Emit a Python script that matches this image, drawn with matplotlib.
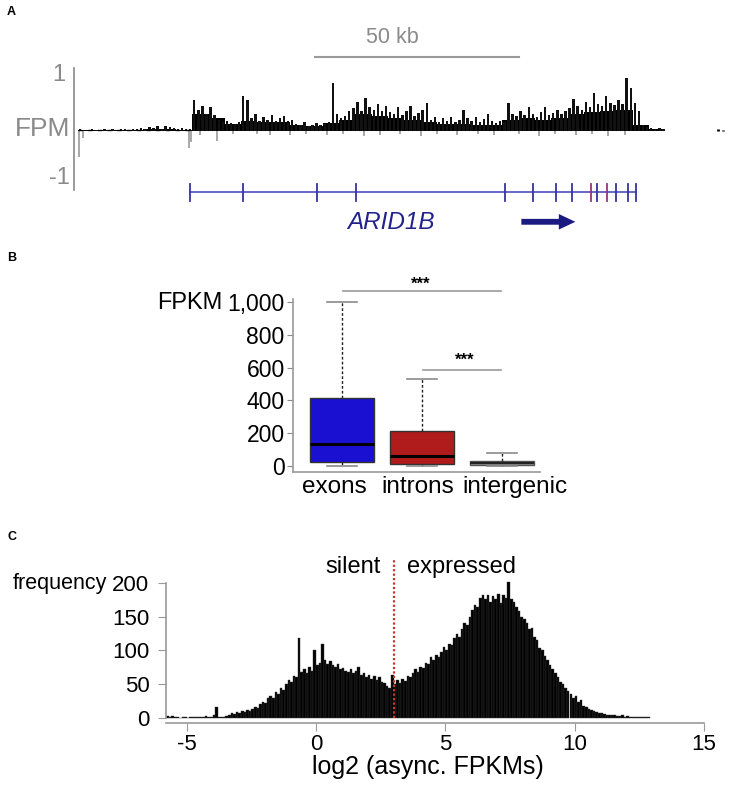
import numpy as np
import matplotlib
matplotlib.use('Agg')
import matplotlib.pyplot as plt
import matplotlib.transforms as mtransforms
from matplotlib.patches import FancyArrowPatch

plt.rcParams['font.family'] = ['Liberation Sans', 'DejaVu Sans']
plt.rcParams['axes.unicode_minus'] = False

# ---- panel A data (kb from left edge of the track) ----
# peak value in each 1 kb bin
fpm_plus = [0.03, 0.02, 0, 0.03, 0.02, 0, 0.03, 0.02, 0.04, 0, 0.03, 0.04, 0.02, 0.04,
            0.03, 0.05, 0.04, 0.06, 0.05, 0.08, 0.04, 0.09, 0.06, 0.05, 0.04, 0.05, 0.04, 0.03,
            0.55, 0.38, 0.45, 0.3, 0.42, 0.28,
            0.2, 0.15, 0.18, 0.14, 0.12, 0.16,
            0.62, 0.55,
            0.22, 0.3, 0.18, 0.25, 0.2, 0.28, 0.17, 0.22, 0.26, 0.18, 0.2,
            0.12, 0.1, 0.15, 0.09, 0.11, 0.14, 0.1, 0.12, 0.16,
            0.86,
            0.3, 0.22, 0.26, 0.35,
            0.4, 0.52, 0.35, 0.58, 0.42, 0.38, 0.48, 0.36, 0.44, 0.33,
            0.3, 0.42, 0.28, 0.35, 0.45, 0.26, 0.32, 0.38, 0.5,
            0.2, 0.24, 0.16, 0.22, 0.18, 0.25, 0.15, 0.2, 0.38, 0.22, 0.18, 0.24, 0.16, 0.21,
            0.3, 0.18, 0.14, 0.17, 0.15,
            0.5,
            0.3, 0.26, 0.35, 0.28, 0.42, 0.3, 0.25, 0.33, 0.43, 0.28, 0.32, 0.38, 0.3, 0.36,
            0.4, 0.57, 0.45, 0.38, 0.52, 0.42, 0.68, 0.48, 0.44, 0.62, 0.5, 0.46, 0.55, 0.48,
            0.94, 0.76, 0.5, 0.35,
            0.1, 0.06, 0.05, 0.04, 0.05, 0.03]
# dense coverage level in 4 kb bins
fpm_base = [0.01, 0.01, 0.02, 0.02, 0.03, 0.03, 0.02,
            0.3, 0.22, 0.12, 0.17, 0.16, 0.15, 0.1, 0.09, 0.14, 0.2, 0.3, 0.27, 0.22,
            0.2, 0.15, 0.13, 0.13, 0.11, 0.1, 0.2, 0.22, 0.2, 0.22, 0.3, 0.33, 0.35, 0.37,
            0.1, 0.03]
extra_kb = [157, 158]
extra_val = [0.03, 0.02]
minus_kb = [0.3, 1.2, 27.3, 27.7, 30, 34, 38, 44, 47, 52, 56, 61, 65, 70, 74, 79, 84,
            88, 93, 98, 102, 108, 113, 117, 122, 126, 130, 134]
minus_val = [-0.46, -0.12, -0.3, -0.2, -0.08, -0.18, -0.06, -0.05, -0.07, -0.07, -0.05,
             -0.08, -0.06, -0.1, -0.07, -0.05, -0.09, -0.06, -0.08, -0.05, -0.07, -0.06,
             -0.1, -0.05, -0.08, -0.06, -0.09, -0.07]
exon_kb = [27.5, 40.4, 58.6, 68.1, 104.7, 111.5, 117.2, 121.1, 125.7, 127.2, 129.7,
           131.9, 134.8, 136.8]
purple_exons = [125.7, 129.7]
gene_start, gene_end = 27.5, 136.8
scalebar_kb = (58.0, 108.0)

# ---- panel B data ----
regions = ['exons', 'introns', 'intergenic']
q1 = [26, 10, 4]
medians = [136, 63, 16]
q3 = [417, 214, 33]
whis_lo = [0, 0, 0]
whis_hi = [1000, 530, 79]
box_colors = ['#1a10d2', '#b01b1b', '#8c8c8c']

# ---- panel C data (0.1 log2 bins starting at -5.8) ----
hist_start = -5.8
hist_width = 0.1
hist_counts = [3, 2, 3, 1, 2, 0, 1, 1, 0, 1, 1, 2, 1, 2, 1, 3, 2, 1, 4, 16,
               2, 1, 2, 3, 5, 7, 6, 9, 8, 10, 9, 12, 11, 14, 17, 15, 21, 24, 22, 29,
               33, 30, 38, 36, 44, 42, 50, 56, 54, 62, 60, 118, 68, 72, 66, 75, 70, 100, 78, 82,
               110, 86, 80, 84, 78, 76, 80, 72, 74, 70, 68, 72, 66, 70, 76, 64, 66, 60, 63, 58,
               62, 56, 60, 54, 52, 48, 44, 64, 50, 56, 52, 58, 55, 62, 60, 66, 72, 68, 76, 74,
               82, 80, 90, 86, 94, 90, 98, 105, 100, 110, 108, 118, 124, 120, 132, 140, 138, 150, 160, 168,
               164, 178, 182, 176, 182, 172, 180, 176, 184, 170, 182, 178, 201, 176, 172, 164, 158, 150, 146, 140,
               132, 134, 120, 116, 104, 100, 92, 86, 78, 72, 66, 60, 54, 50, 44, 40, 36, 30, 32, 24,
               26, 18, 16, 13, 12, 10, 9, 8, 7, 6, 5, 5, 4, 4, 3, 3, 4, 2, 3, 2,
               2, 1, 2, 1, 2, 1, 1]
threshold = 3.0

W, H = 736, 786


def fig_rect(x0, y0, x1, y1):
    return [x0 / W, 1 - y1 / H, (x1 - x0) / W, (y1 - y0) / H]


fig = plt.figure(figsize=(W / 100, H / 100), dpi=100)

# ================= panel A =================
axA = fig.add_axes(fig_rect(74, 30, 736, 240))
axA.set_xlim(-0.98, 161.3)
axA.set_ylim(-1.95, 1.80)
for s in ['top', 'right', 'bottom']:
    axA.spines[s].set_visible(False)
axA.spines['left'].set_bounds(-1.054, 1.125)
axA.spines['left'].set_color('#8a8a8a')
axA.spines['left'].set_linewidth(1.2)
axA.set_xticks([])
axA.set_yticks([])
axA.patch.set_visible(False)

kb = np.arange(len(fpm_plus))
kb4 = 4 * np.arange(len(fpm_base))
axA.vlines(minus_kb, minus_val, 0, color='#9a9a9a', linewidth=1.2)
axA.bar(kb4, fpm_base, width=4.0, align='edge', color='black', linewidth=0)
axA.bar(kb + 0.2, fpm_plus, width=0.6, align='edge', color='#111111', linewidth=0)
axA.vlines(extra_kb, 0, extra_val, color='black', linewidth=2)
axA.plot([0, 27.5], [0.01, 0.01], color='black', lw=1.0, linestyle=(0, (3, 4)))

axA.plot(scalebar_kb, [1.32, 1.32], color='#9a9a9a', lw=1.5)
axA.text(77.0, 1.66, '50 kb', ha='center', va='center', fontsize=15.5, color='#8a8a8a')
axA.text(-3.0, 1.0, '1', ha='right', va='center', fontsize=17, color='#8a8a8a', clip_on=False)
axA.text(-2.0, 0.03, 'FPM', ha='right', va='center', fontsize=19, color='#8a8a8a', clip_on=False)
axA.text(-2.0, -0.84, '-1', ha='right', va='center', fontsize=17, color='#8a8a8a', clip_on=False)

axA.plot([gene_start, gene_end], [-1.09, -1.09], color='#5a5ac4', lw=1.3)
for e in exon_kb:
    c = '#8a3a80' if e in purple_exons else '#3434a0'
    axA.plot([e, e], [-0.95, -1.25], color=c, lw=1.3)
axA.text(76.7, -1.64, 'ARID1B', ha='center', va='center', fontsize=17.5, style='italic', color='#22228c')
arrow = FancyArrowPatch((108.0, -1.625), (122.6, -1.625),
                        arrowstyle='simple,head_width=0.8,head_length=0.85,tail_width=0.3',
                        mutation_scale=14, color='#1a1a80', linewidth=0)
axA.add_patch(arrow)

# ================= panel B =================
axB = fig.add_axes(fig_rect(293, 299, 540, 472))
stats = []
for i, name in enumerate(regions):
    stats.append(dict(label=name, q1=q1[i], med=medians[i], q3=q3[i],
                      whislo=whis_lo[i], whishi=whis_hi[i], fliers=[]))
bp = axB.bxp(stats, positions=[1, 2, 3], widths=0.8, patch_artist=True,
             boxprops=dict(edgecolor='#333333', linewidth=1.0),
             medianprops=dict(color='black', linewidth=2.2),
             whiskerprops=dict(color='#222222', linestyle=(0, (2, 1.5)), linewidth=1.0),
             capprops=dict(color='#8a8a8a', linewidth=1.2))
for patch, c in zip(bp['boxes'], box_colors):
    patch.set_facecolor(c)
bp['boxes'][2].set_edgecolor('#555555')
bp['medians'][2].set_linewidth(1.5)
bp['medians'][2].set_color('#222222')
for cap in bp['caps']:
    mid = np.mean(cap.get_xdata())
    cap.set_xdata([mid - 0.19, mid + 0.19])
axB.set_xlim(0.39, 3.475)
axB.set_ylim(-37, 1018)
axB.set_yticks([0, 200, 400, 600, 800, 1000])
axB.set_yticklabels(['0', '200', '400', '600', '800', '1,000'])
axB.set_xticks([1, 2, 3])
axB.set_xticklabels([])
axB.tick_params(axis='y', labelsize=16.5, length=4, color='#8a8a8a', pad=2)
axB.tick_params(axis='x', length=0)
lab_trans = mtransforms.blended_transform_factory(axB.transData, fig.transFigure)
for name, xc in zip(regions, [0.91, 1.95, 3.16]):
    axB.text(xc, 1 - 487 / H, name, transform=lab_trans, ha='center', va='center',
             fontsize=17.5, clip_on=False)
for s in ['top', 'right']:
    axB.spines[s].set_visible(False)
for s in ['left', 'bottom']:
    axB.spines[s].set_color('#9a9a9a')
    axB.spines[s].set_linewidth(1.2)
fig.text(157 / W, 1 - 303 / H, 'FPKM', ha='left', va='center', fontsize=17)

axB.plot([1.01, 2.99], [1067, 1067], color='#9a9a9a', lw=1.2, clip_on=False)
axB.text(1.98, 1060, '***', ha='center', va='bottom', fontsize=12, fontweight='bold', clip_on=False)
axB.plot([2.01, 2.99], [585, 585], color='#9a9a9a', lw=1.2, clip_on=False)
axB.text(2.54, 598, '***', ha='center', va='bottom', fontsize=12, fontweight='bold', clip_on=False)

# ================= panel C =================
axC = fig.add_axes(fig_rect(166, 580, 704, 723))
bins = hist_start + hist_width * np.arange(len(hist_counts))
axC.bar(bins, hist_counts, width=hist_width, align='edge', color='black',
        edgecolor='#3a3a3a', linewidth=0.3)
axC.set_xlim(-5.8, 15)
axC.set_ylim(-7.4, 204.4)
axC.set_yticks([0, 50, 100, 150, 200])
axC.set_xticks([-5, 0, 5, 10, 15])
for s in ['top', 'right']:
    axC.spines[s].set_visible(False)
for s in ['left', 'bottom']:
    axC.spines[s].set_color('#9a9a9a')
    axC.spines[s].set_linewidth(1.2)
axC.spines['left'].set_bounds(0, 200)
axC.tick_params(axis='both', labelsize=16, length=6, color='#9a9a9a', pad=2)
axC.tick_params(axis='y', pad=6)
axC.plot([threshold, threshold], [0, 234], color='#d03030', lw=1.6, linestyle=(0, (1, 1)), clip_on=False)
axC.text(2.5, 224, 'silent', ha='right', va='center', fontsize=17, clip_on=False)
axC.text(3.5, 224, 'expressed', ha='left', va='center', fontsize=17, clip_on=False)
fig.text(13 / W, 1 - 583 / H, 'frequency', ha='left', va='center', fontsize=15.5)
fig.text(428 / W, 1 - 767 / H, 'log2 (async. FPKMs)', ha='center', va='center', fontsize=18)

# panel letters
for letter, y in [('A', 12), ('B', 258), ('C', 537)]:
    fig.text(7 / W, 1 - y / H, letter, ha='left', va='center', fontsize=9, fontweight='bold')

fig.savefig('out.png', dpi=100)
